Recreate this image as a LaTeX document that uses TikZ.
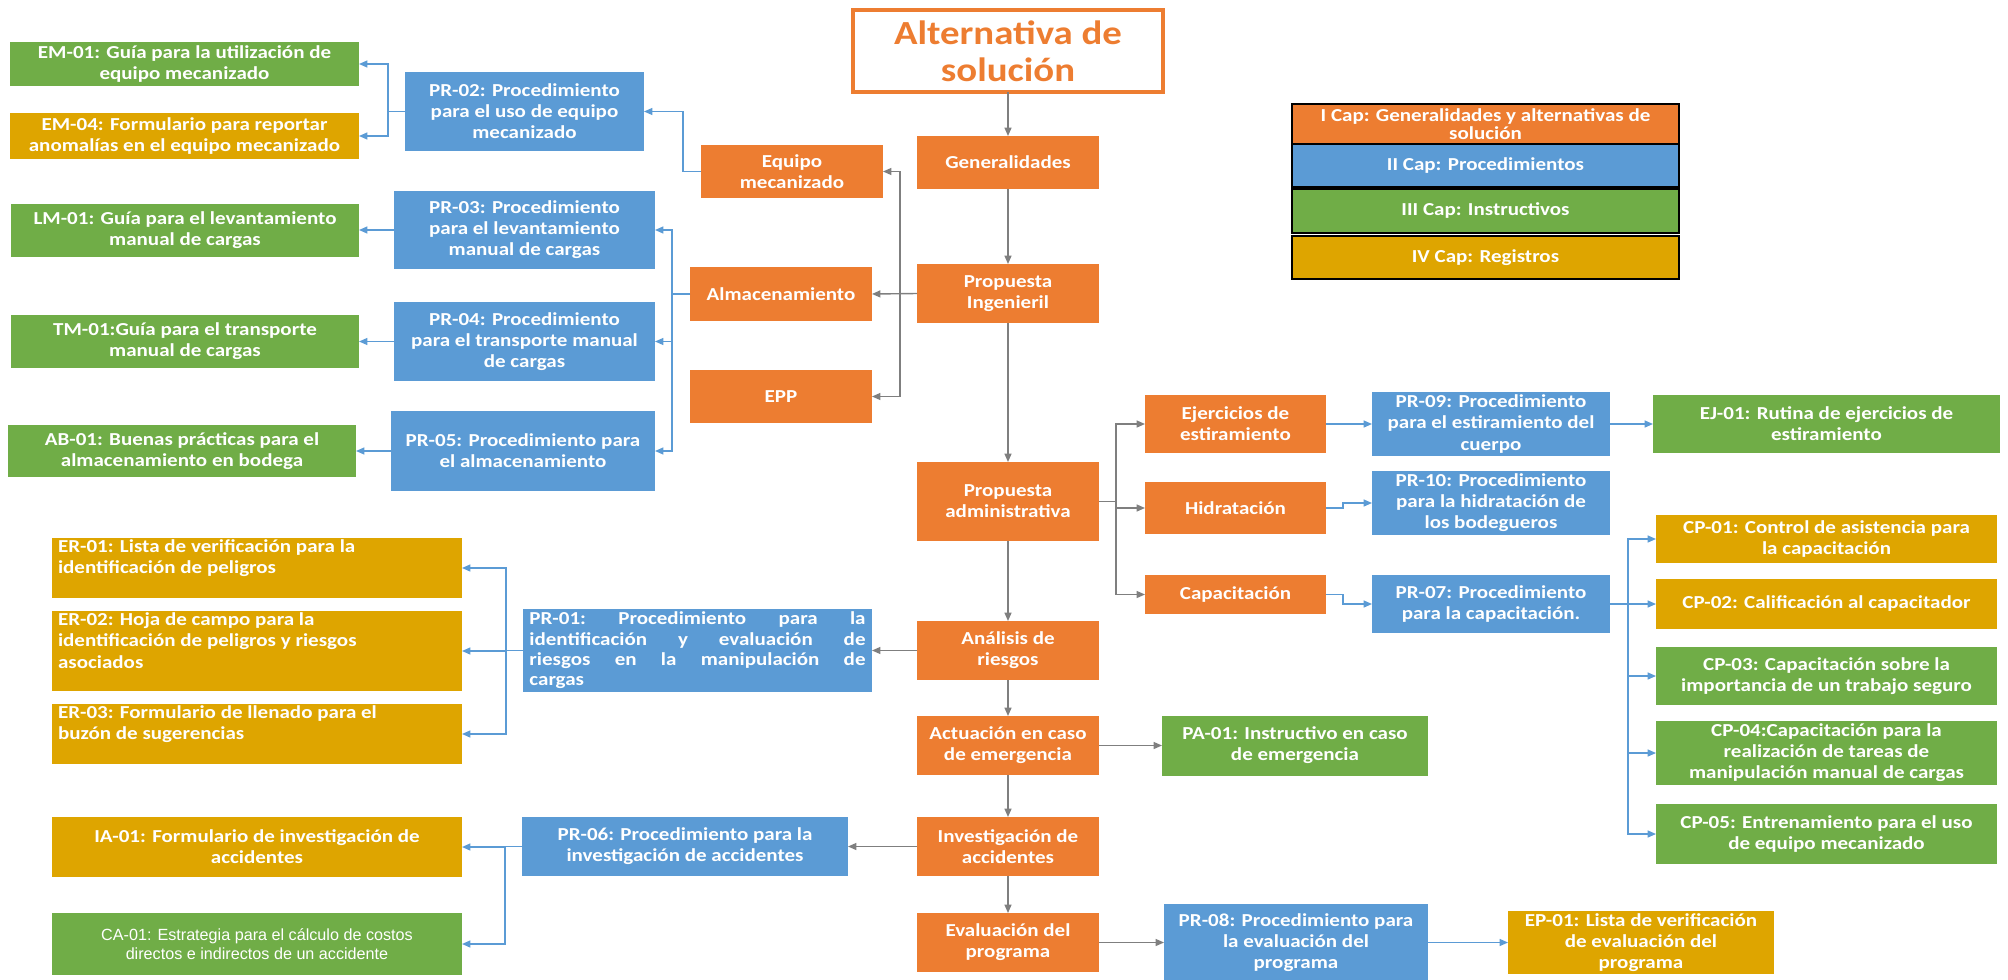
\documentclass[tikz,border=0pt]{standalone}
\usepackage{fontspec}
\setmainfont{Carlito}[FakeStretch=1.15]
\newfontfamily\arialfont{Liberation Sans}
\usetikzlibrary{arrows.meta}
\usetikzlibrary{positioning}
\definecolor{orng}{HTML}{ED7D31}
\definecolor{blu}{HTML}{5B9BD5}
\definecolor{grn}{HTML}{70AD47}
\definecolor{gld}{HTML}{DEA500}
\definecolor{lgray}{HTML}{7F7F7F}
\tikzset{
    tile/.style = {text=white,inner sep=2pt,outer sep=0pt,align=center,
        font=\bfseries\fontsize{13}{15}\selectfont},
    sz/.style 2 args = {minimum width=#1*0.025cm,minimum height=#2*0.025cm},
    orgbox/.style = {tile,fill=orng},
    blubox/.style = {tile,fill=blu},
    grnbox/.style = {tile,fill=grn},
    gldbox/.style = {tile,fill=gld},
    legrow/.style = {tile,draw=black,line width=1.3pt},
    lefttext/.style = {tile,fill=none,align=left,anchor=north west,inner sep=0pt}
}
\tikzset{
    garrow/.style = {draw=lgray,line width=1pt,-{Triangle[length=6pt,width=5pt]}},
    barrow/.style = {draw=blu,line width=1pt,-{Triangle[length=6pt,width=5pt]}}
}
\newcommand*\fullline[1]{\leavevmode\hbox to 8.4cm{#1}}
\begin{document}
\begin{tikzpicture}[x=0.025cm,y=-0.025cm]
        \useasboundingbox (0,0) rectangle (2008,980);
        \newcommand*\colmain{1008}
        % Main column
        \node[tile,draw=orng,line width=2.2pt,text=orng,sz={310}{82},
            font=\bfseries\fontsize{24}{26}\selectfont] (title) at (\colmain,51) {Alternativa de\\solución};
        \node[orgbox,sz={182}{53}] (gen) at (\colmain,162.5) {Generalidades};
        \node[orgbox,sz={182}{59}] (proping) at (\colmain,293.5) {Propuesta\\Ingenieril};
        \node[orgbox,sz={182}{79}] (propadm) at (\colmain,501.5) {Propuesta\\administrativa};
        \node[orgbox,sz={182}{59}] (analisis) at (\colmain,650.5) {Análisis de\\riesgos};
        \node[orgbox,sz={182}{59}] (actuacion) at (\colmain,745.5) {Actuación en caso\\de emergencia};
        \node[orgbox,sz={182}{59}] (investig) at (\colmain,846.5) {Investigación de\\accidentes};
        \node[orgbox,sz={182}{59}] (evalua) at (\colmain,942.5) {Evaluación del\\programa};
        % Propuesta ingenieril
        \node[orgbox,sz={182}{53}] (equipo) at (792,171.5) {Equipo\\mecanizado};
        \node[orgbox,sz={182}{54}] (almac) at (781,294) {Almacenamiento};
        \node[orgbox,sz={182}{53}] (epp) at (781,396.5) {EPP};
        \node[blubox,sz={239}{79}] (pr02) at (524.5,111.5) {PR-02: Procedimiento\\para el uso de equipo\\mecanizado};
        \node[grnbox,sz={349}{44}] (em01) at (184.5,64) {EM-01: Guía para la utilización de\\equipo mecanizado};
        \node[gldbox,sz={349}{46}] (em04) at (184.5,136) {EM-04: Formulario para reportar\\anomalías en el equipo mecanizado};
        \node[blubox,sz={261}{78}] (pr03) at (524.5,230) {PR-03: Procedimiento\\para el levantamiento\\manual de cargas};
        \node[blubox,sz={261}{79}] (pr04) at (524.5,341.5) {PR-04: Procedimiento\\para el transporte manual\\de cargas};
        \node[blubox,sz={264}{80}] (pr05) at (523,451) {PR-05: Procedimiento para\\el almacenamiento};
        \node[grnbox,sz={348}{53}] (lm01) at (185,230) {LM-01: Guía para el levantamiento\\manual de cargas};
        \node[grnbox,sz={348}{53}] (tm01) at (185,341.5) {TM-01:Guía para el transporte\\manual de cargas};
        \node[grnbox,sz={348}{52}] (ab01) at (182,451) {AB-01: Buenas prácticas para el\\almacenamiento en bodega};
        % Legend
        \node[legrow,fill=orng,sz={387}{40},font=\bfseries\fontsize{13}{13}\selectfont] (leg1) at (1485.5,124) {I Cap: Generalidades y alternativas de\\solución};
        \node[legrow,fill=blu,sz={387}{43}] (leg2) at (1485.5,165.5) {II Cap: Procedimientos};
        \node[legrow,fill=grn,sz={387}{44}] (leg3) at (1485.5,211) {III Cap: Instructivos};
        \node[legrow,fill=gld,sz={387}{43}] (leg4) at (1485.5,257.5) {IV Cap: Registros};
        % Propuesta administrativa
        \node[orgbox,sz={181}{58}] (ejer) at (1235.5,424) {Ejercicios de\\estiramiento};
        \node[orgbox,sz={181}{52}] (hidra) at (1235.5,508) {Hidratación};
        \node[orgbox,sz={181}{39}] (capac) at (1235.5,594.5) {Capacitación};
        \node[blubox,sz={238}{58}] (pr09) at (1491,424) {PR-09: Procedimiento\\para el estiramiento del\\cuerpo};
        \node[blubox,sz={238}{62}] (pr10) at (1491,503) {PR-10: Procedimiento\\para la hidratación de\\los bodegueros};
        \node[blubox,sz={238}{58}] (pr07) at (1491,604) {PR-07: Procedimiento\\para la capacitación.};
        \node[grnbox,sz={347}{58}] (ej01) at (1826.5,424) {EJ-01: Rutina de ejercicios de\\estiramiento};
        \node[gldbox,sz={341}{48}] (cp01) at (1826.5,539) {CP-01: Control de asistencia para\\la capacitación};
        \node[gldbox,sz={341}{50}] (cp02) at (1826.5,604) {CP-02: Calificación al capacitador};
        \node[grnbox,sz={341}{58}] (cp03) at (1826.5,676) {CP-03: Capacitación sobre la\\importancia de un trabajo seguro};
        \node[grnbox,sz={341}{60}] (cp04) at (1826.5,753) {CP-04:Capacitación para la\\realización de tareas de\\manipulación manual de cargas};
        \node[grnbox,sz={341}{60}] (cp05) at (1826.5,834) {CP-05: Entrenamiento para el uso\\de equipo mecanizado};
        % Riesgos
        \node[blubox,sz={349}{79},text width=8.4cm,align=left,
            font=\bfseries\fontsize{13}{14.5}\selectfont] (pr01) at (697.5,650.5) {%
            \fullline{PR-01:\hfill Procedimiento\hfill para\hfill la}\\
            \fullline{identificación\hfill y\hfill evaluación\hfill de}\\
            \fullline{riesgos\hfill en\hfill la\hfill manipulación\hfill de}\\
            cargas};
        \node[gldbox,sz={410}{60}] (er01) at (257,568) {};
        \node[gldbox,sz={410}{80}] (er02) at (257,651) {};
        \node[gldbox,sz={410}{60}] (er03) at (257,734) {};
        \node[lefttext] at ([shift={(6,2)}]er01.north west) {ER-01: Lista de verificación para la\\identificación de peligros};
        \node[lefttext] at ([shift={(6,2)}]er02.north west) {ER-02: Hoja de campo para la\\identificación de peligros y riesgos\\asociados};
        \node[lefttext] at ([shift={(6,2)}]er03.north west) {ER-03: Formulario de llenado para el\\buzón de sugerencias};
        % Emergencia, accidentes, evaluación
        \node[grnbox,sz={266}{60}] (pa01) at (1295,745.5) {PA-01: Instructivo en caso\\de emergencia};
        \node[blubox,sz={326}{59}] (pr06) at (685,846.5) {PR-06: Procedimiento para la\\investigación de accidentes};
        \node[gldbox,sz={410}{60}] (ia01) at (257,847) {IA-01: Formulario de investigación de\\accidentes};
        \node[grnbox,sz={410}{62},font=\arialfont\fontsize{11.5}{13}\selectfont] (ca01) at (257,944) {CA-01: Estrategia para el cálculo de costos\\directos e indirectos de un accidente};
        \node[blubox,sz={264}{77}] (pr08) at (1296,942.5) {PR-08: Procedimiento para\\la evaluación del\\programa};
        \node[gldbox,sz={266}{61}] (ep01) at (1641,942.5) {EP-01: Lista de verificación\\de evaluación del\\programa};
        % Main column arrows
        \foreach \src/\dest in {title/gen,gen/proping,proping/propadm,propadm/analisis,
            analisis/actuacion,actuacion/investig,investig/evalua}
            \draw[garrow] (\src.south) to (\dest.north);
        \foreach \src/\dest in {proping/almac,analisis/pr01,investig/pr06}
            \draw[garrow] (\src.west) to (\dest.east);
        \foreach \src/\dest in {actuacion/pa01,evalua/pr08}
            \draw[garrow] (\src.east) to (\dest.west);
        \foreach \dest in {equipo,epp}
            \draw[garrow] (proping.west) -- ++(-17,0) |- (\dest.east);
        \foreach \dest in {ejer,hidra,capac}
            \draw[garrow] (propadm.east) -- ++(17,0) |- (\dest.west);
        % Documents
        \draw[barrow] (equipo.west) -- ++(-18,0) |- (pr02.east);
        \foreach \dest in {em01,em04}
            \draw[barrow] (pr02.west) -- ++(-17,0) |- (\dest.east);
        \foreach \dest in {pr03,pr04,pr05}
            \draw[barrow] (almac.west) -- ++(-18,0) |- (\dest.east);
        \foreach \src/\dest in {pr03/lm01,pr04/tm01,pr05/ab01}
            \draw[barrow] (\src.west) to (\dest.east);
        \foreach \src/\dest in {ejer/pr09,pr09/ej01,pr08/ep01}
            \draw[barrow] (\src.east) to (\dest.west);
        \foreach \src/\dest in {hidra/pr10,capac/pr07}
            \draw[barrow] (\src.east) -- ++(17,0) |- (\dest.west);
        \foreach \dest in {cp01,cp02,cp03,cp04,cp05}
            \draw[barrow] (pr07.east) -- ++(18,0) |- (\dest.west);
        \foreach \dest in {er01,er02,er03}
            \draw[barrow] (pr01.west) -- ++(-17,0) |- (\dest.east);
        \foreach \dest in {ia01,ca01}
            \draw[barrow] (pr06.west) -- ++(-17,0) |- (\dest.east);
    \end{tikzpicture}
\end{document}
